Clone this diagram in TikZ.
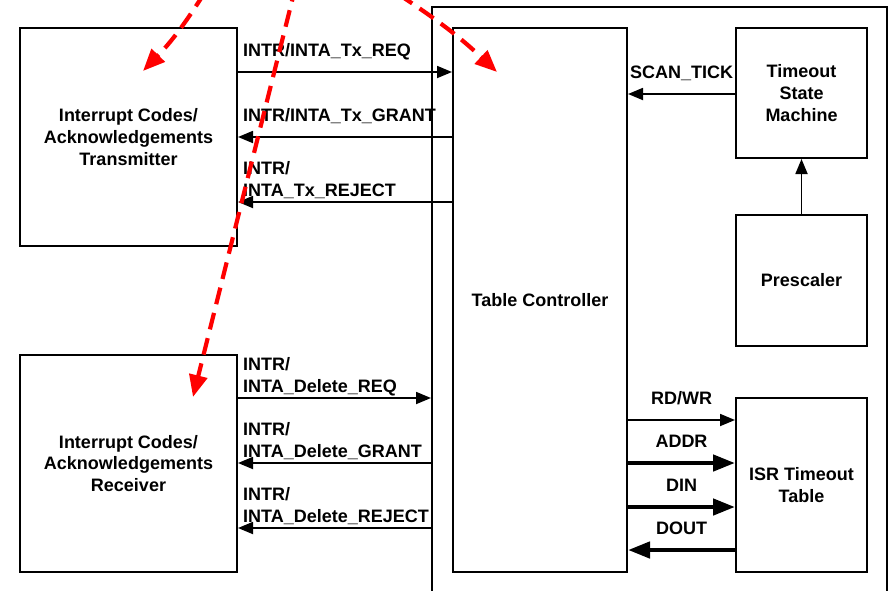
\documentclass[tikz,border=0pt]{standalone}
\usepackage{fontspec}
\setmainfont{Liberation Sans}
\usetikzlibrary{arrows.meta}
\newcommand{\twoline}[2]{\vbox{\baselineskip=21.7pt\hbox{#1}\hbox{#2}}}
\begin{document}
\begin{tikzpicture}[x=1pt,y=-1pt,
  every node/.style={font=\bfseries\fontsize{18}{21.7}\selectfont, inner sep=0pt},
  blk/.style={draw, line width=2pt, rectangle, align=center},
  thinarr/.style={line width=1.8pt, -{Triangle[length=15pt,width=12pt]}},
  busarr/.style={line width=4.5pt, -{Triangle[length=22pt,width=16pt]}},
  hint/.style={red, line width=4.2pt, dash pattern=on 17pt off 9pt, -{Triangle[length=22pt,width=18pt]}},
  lbl/.style={anchor=base west},
  clbl/.style={anchor=base}]
\clip (0,0) rectangle (888,590);
\fill[white] (0,0) rectangle (888,590);
% outer frame
\node[draw, line width=2pt, minimum width=455pt, minimum height=620pt] (outer) at (659.5,317) {};
% blocks
\node[blk, minimum width=217pt, minimum height=218pt] (tx) at (128.5,137) {Interrupt Codes/\\Acknowledgements\\Transmitter};
\node[blk, minimum width=217pt, minimum height=217pt] (rx) at (128.5,463.5) {Interrupt Codes/\\Acknowledgements\\Receiver};
\node[blk, minimum width=174pt, minimum height=544pt] (tc) at (540,300) {Table Controller};
\node[blk, minimum width=131pt, minimum height=130pt] (tsm) at (801.5,93) {Timeout\\State\\Machine};
\node[blk, minimum width=131pt, minimum height=131pt] (pre) at (801.5,280.5) {Prescaler};
\node[blk, minimum width=131pt, minimum height=174pt] (isr) at (801.5,485) {ISR Timeout\\Table};
% connectors
\draw[thinarr] (tx.east |- 0,72) -- (tc.west |- 0,72);
\draw[thinarr] (tc.west |- 0,137) -- (tx.east |- 0,137);
\draw[thinarr] (tc.west |- 0,202) -- (tx.east |- 0,202);
\draw[thinarr] (rx.east |- 0,398) -- (outer.west |- 0,398);
\draw[thinarr] (outer.west |- 0,463) -- (rx.east |- 0,463);
\draw[thinarr] (outer.west |- 0,528) -- (rx.east |- 0,528);
\draw[thinarr] (tsm.west |- 0,94) -- (tc.east |- 0,94);
\draw[thinarr] (pre.north) -- (tsm.south);
\draw[thinarr] (tc.east |- 0,420) -- (isr.west |- 0,420);
\draw[busarr] (tc.east |- 0,463) -- (isr.west |- 0,463);
\draw[busarr] (tc.east |- 0,507) -- (isr.west |- 0,507);
\draw[busarr] (isr.west |- 0,550) -- (tc.east |- 0,550);
% labels
\node[lbl] (l1) at (243,56.5) {INTR/INTA\_Tx\_REQ};
\node[lbl] (l2) at (243,121.5) {INTR/INTA\_Tx\_GRANT};
\node[lbl] (l3) at (243,196.5) {\twoline{INTR/}{INTA\_Tx\_REJECT}};
\node[lbl] (l4) at (243,392.5) {\twoline{INTR/}{INTA\_Delete\_REQ}};
\node[lbl] (l5) at (243,457.5) {\twoline{INTR/}{INTA\_Delete\_GRANT}};
\node[lbl] (l6) at (243,522.5) {\twoline{INTR/}{INTA\_Delete\_REJECT}};
\node[clbl] (l7) at (681.5,78.5) {SCAN\_TICK};
\node[clbl] (l8) at (681.5,404.5) {RD/WR};
\node[clbl] (l9) at (681.5,447.5) {ADDR};
\node[clbl] (l10) at (681.5,491.5) {DIN};
\node[clbl] (l11) at (681.5,534.5) {DOUT};
% red dashed hints
\coordinate (r1s) at (205,-8);
\coordinate (r1e) at (143,71);
\coordinate (r2s) at (296,-15);
\coordinate (r2e) at (193,397);
\coordinate (r3s) at (398,-6);
\coordinate (r3e) at (497,72);
\draw[hint] (r1s) to[bend left=6] (r1e);
\draw[hint] (r2s) -- (r2e);
\draw[hint] (r3s) to[bend left=5] (r3e);
\end{tikzpicture}
\end{document}
